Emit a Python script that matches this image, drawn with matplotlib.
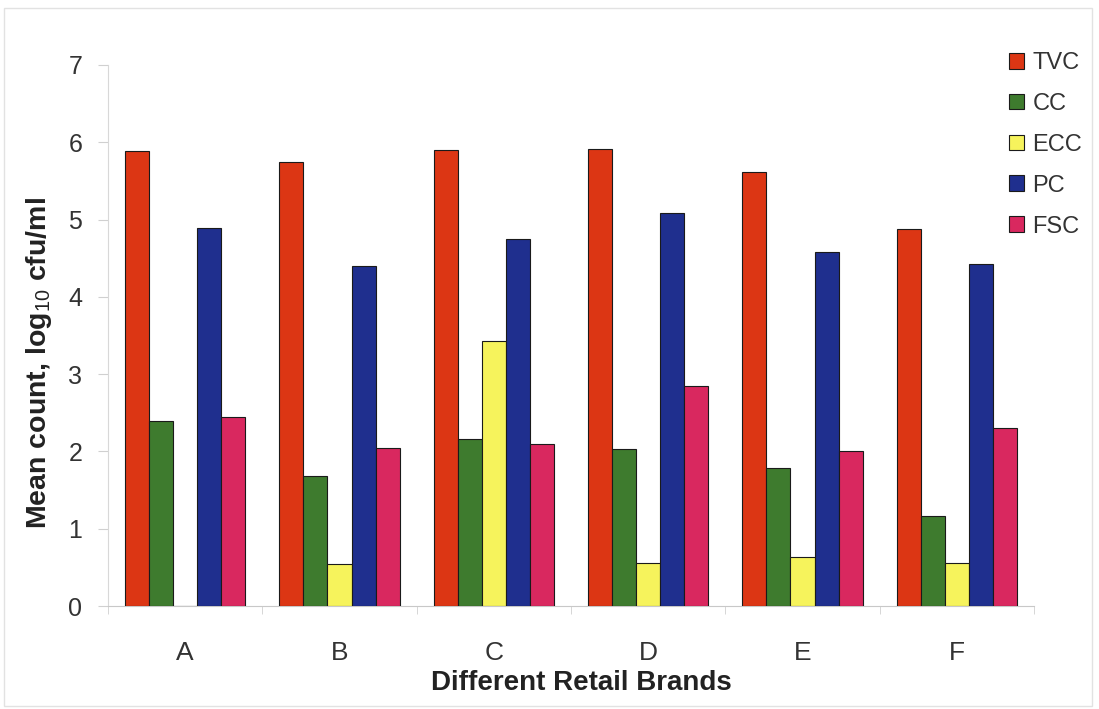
import matplotlib
matplotlib.use("Agg")
import matplotlib.pyplot as plt
import numpy as np

brands = ["A", "B", "C", "D", "E", "F"]
series_names = ["TVC", "CC", "ECC", "PC", "FSC"]
tvc = [5.89, 5.75, 5.90, 5.91, 5.61, 4.88]
cc = [2.40, 1.68, 2.16, 2.03, 1.78, 1.16]
ecc = [0.0, 0.54, 3.43, 0.56, 0.64, 0.55]
pc = [4.89, 4.40, 4.75, 5.08, 4.58, 4.42]
fsc = [2.45, 2.04, 2.09, 2.85, 2.00, 2.30]
y_ticks = [0, 1, 2, 3, 4, 5, 6, 7]

colors = ["#DC3614", "#3E7B2E", "#F6F35C", "#1F2F8E", "#D9285F"]

plt.rcParams["font.family"] = ["Liberation Sans", "DejaVu Sans"]
plt.rcParams["mathtext.fontset"] = "custom"
plt.rcParams["mathtext.rm"] = "Liberation Sans"
plt.rcParams["mathtext.bf"] = "Liberation Sans:bold"

W, H = 1099, 709
fig = plt.figure(figsize=(W / 100, H / 100), dpi=100)
ax = fig.add_axes([108 / W, (H - 606) / H, 926 / W, 541 / H])

x = np.arange(len(brands))
bw = 0.156
values = [tvc, cc, ecc, pc, fsc]
for i, (name, vals, col) in enumerate(zip(series_names, values, colors)):
    ax.bar(x + (i - 2) * bw, vals, width=bw, color=col, edgecolor="#1a1a1a",
           linewidth=0.8, label=name, zorder=3)

ax.set_xlim(-0.5, len(brands) - 0.5)
ax.set_ylim(0, 7)
ax.set_yticks(y_ticks)
ax.set_yticklabels([str(t) for t in y_ticks], fontsize=18, color="#333333")
ax.set_xticks(x)
ax.set_xticklabels(brands, fontsize=19, color="#333333")
ax.tick_params(axis="x", length=0, pad=25)
ax.tick_params(axis="y", length=7, color="#d0d0d0", pad=11.5)
# category boundary ticks on the x axis
ax.set_xticks(np.arange(-0.5, len(brands), 1.0), minor=True)
ax.tick_params(axis="x", which="minor", length=6, color="#d0d0d0")

for side in ["top", "right"]:
    ax.spines[side].set_visible(False)
ax.spines["left"].set_color("#d8d8d8")
ax.spines["bottom"].set_color("#c8c8c8")

ax.set_xlabel("Different Retail Brands", fontsize=20, fontweight="bold",
              color="#222222")
ax.xaxis.set_label_coords(0.511, -0.118)
ax.set_ylabel(r"Mean count, log$_{10}$ cfu/ml", fontsize=20.5, fontweight="bold",
              color="#222222")
ax.yaxis.set_label_coords(-0.058, 0.45)

leg = fig.legend(loc="upper left", bbox_to_anchor=(1009 / W, (H - 52) / H),
                 frameon=False, fontsize=17, handlelength=0.65, handleheight=0.65,
                 handletextpad=0.35, labelspacing=0.8, borderpad=0,
                 borderaxespad=0)
for t in leg.get_texts():
    t.set_color("#333333")

# light frame around the chart area
fig.patches.append(plt.Rectangle((0.004, 0.004), 0.99, 0.985, transform=fig.transFigure,
                                 fill=False, edgecolor="#e2e2e2", linewidth=1.0))

fig.savefig("out.png", dpi=100)
